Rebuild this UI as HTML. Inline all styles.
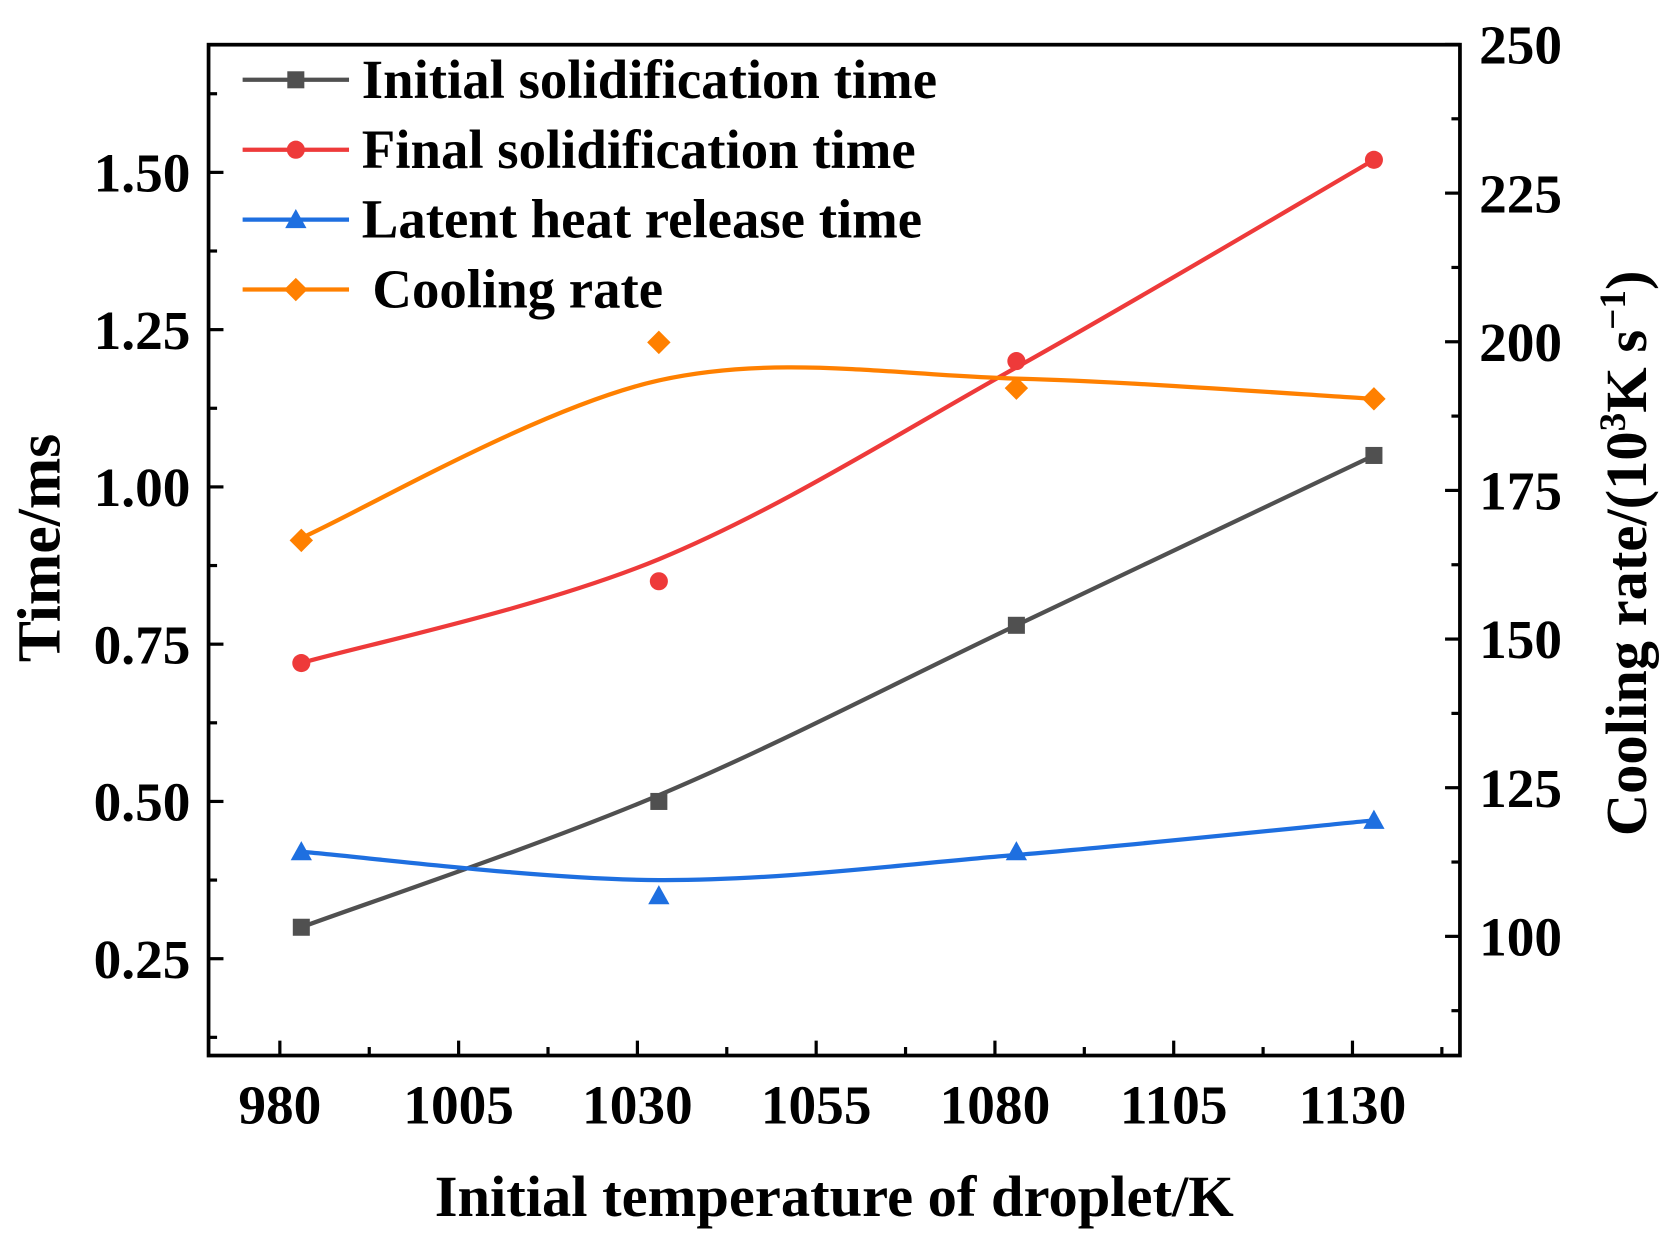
<!DOCTYPE html>
<html><head><meta charset="utf-8"><style>
html,body{margin:0;padding:0;background:#fff;}
svg{display:block;font-family:"Liberation Serif",serif;font-weight:bold;}
</style></head><body>
<svg id="chart" width="1660" height="1256" viewBox="0 0 1560 1180.4" preserveAspectRatio="none" xmlns="http://www.w3.org/2000/svg"></svg>
<script>
const categories = [983, 1033, 1083, 1133];
const initialTime = [0.30, 0.50, 0.78, 1.05];
const finalTime = [0.72, 0.85, 1.20, 1.52];
const latentTime = [0.42, 0.35, 0.42, 0.47];
const coolingRate = [166.6, 199.9, 192.2, 190.4];
const initialFit = [0.30, 0.51, 0.78, 1.05];
const finalFit = [0.72, 0.885, 1.19, 1.52];
const latentFit = [0.42, 0.375, 0.415, 0.47];
const coolingFit = [167, 193.5, 193.8, 190.4];
const xTicks = [980, 1005, 1030, 1055, 1080, 1105, 1130];
const yTicks = [0.25, 0.50, 0.75, 1.00, 1.25, 1.50];
const y2Ticks = [100, 125, 150, 175, 200, 225, 250];

const NS = "http://www.w3.org/2000/svg";
const svg = document.getElementById('chart');
const L = 196, R = 1372, T = 42, B = 992;
const x = v => 263 + (v - 980) / 25 * 168;
const y = v => 901 - (v - 0.25) / 0.25 * 147.8;
const y2 = v => 880 - (v - 100) / 25 * 139.7;
function mk(tag, attrs, parent) {
  const e = document.createElementNS(NS, tag);
  for (const k in attrs) e.setAttribute(k, attrs[k]);
  (parent || svg).appendChild(e);
  return e;
}
function txt(s, attrs, name) {
  const e = mk('text', attrs);
  e.textContent = s;
  
  
  return e;
}
const frame = mk('rect', {x: L, y: T, width: R - L, height: B - T, fill: 'none', stroke: '#000', 'stroke-width': 3.5});


xTicks.forEach((t, i) => {
  const tk = mk('line', {x1: x(t), x2: x(t), y1: B, y2: B - 14, stroke: '#000', 'stroke-width': 3});
  
  
  if (i < xTicks.length - 1) {
    const m = mk('line', {x1: x(t + 12.5), x2: x(t + 12.5), y1: B, y2: B - 8, stroke: '#000', 'stroke-width': 3});
    
    
  }
  txt(String(t), {x: x(t), y: 1056, 'font-size': 52, 'text-anchor': 'middle'}, 'x-tick-label');
});
[1142.5].forEach(t => {
  const m = mk('line', {x1: x(t), x2: x(t), y1: B, y2: B - 8, stroke: '#000', 'stroke-width': 3});
  
  
});
yTicks.forEach(t => {
  const tk = mk('line', {x1: L, x2: L + 14, y1: y(t), y2: y(t), stroke: '#000', 'stroke-width': 3});
  
  
  txt(t.toFixed(2), {x: 179, y: y(t) + 18, 'font-size': 52, 'text-anchor': 'end'}, 'y-tick-label');
});
[0.125, 0.375, 0.625, 0.875, 1.125, 1.375, 1.625].forEach(t => {
  const m = mk('line', {x1: L, x2: L + 8, y1: y(t), y2: y(t), stroke: '#000', 'stroke-width': 3});
  
  
});
y2Ticks.forEach(t => {
  const tk = mk('line', {x1: R, x2: R - 14, y1: y2(t), y2: y2(t), stroke: '#000', 'stroke-width': 3});
  
  
  txt(String(t), {x: 1390, y: y2(t) + 18, 'font-size': 52}, 'y2-tick-label');
});
[87.5, 112.5, 137.5, 162.5, 187.5, 212.5, 237.5].forEach(t => {
  const m = mk('line', {x1: R, x2: R - 8, y1: y2(t), y2: y2(t), stroke: '#000', 'stroke-width': 3});
  
  
});
txt('Initial temperature of droplet/K', {x: 784, y: 1143, 'font-size': 55, 'text-anchor': 'middle'}, 'x-axis-title');
txt('Time/ms', {x: 0, y: 0, 'font-size': 58, 'text-anchor': 'middle', transform: 'translate(56,515) rotate(-90)'}, 'y-axis-title');
const t2 = txt('', {x: 0, y: 0, 'font-size': 55, 'text-anchor': 'middle', transform: 'translate(1547,520) rotate(-90)'}, 'y2-axis-title');
t2.innerHTML = 'Cooling rate/(10<tspan dy="-20" font-size="35">3</tspan><tspan dy="20">K s</tspan><tspan dy="-20" font-size="35">−1</tspan><tspan dy="20">)</tspan>';

function smooth(pts) {
  let d = `M${pts[0][0]},${pts[0][1]}`;
  for (let i = 0; i < pts.length - 1; i++) {
    const p0 = pts[Math.max(i - 1, 0)], p1 = pts[i], p2 = pts[i + 1], p3 = pts[Math.min(i + 2, pts.length - 1)];
    const c1 = [p1[0] + (p2[0] - p0[0]) / 6, p1[1] + (p2[1] - p0[1]) / 6];
    const c2 = [p2[0] - (p3[0] - p1[0]) / 6, p2[1] - (p3[1] - p1[1]) / 6];
    d += ` C${c1[0]},${c1[1]} ${c2[0]},${c2[1]} ${p2[0]},${p2[1]}`;
  }
  return d;
}
function marker(type, cx, cy, color) {
  let e;
  if (type === 'square') e = mk('rect', {x: cx - 8, y: cy - 8, width: 16, height: 16, fill: color});
  else if (type === 'circle') e = mk('circle', {cx, cy, r: 8.5, fill: color});
  else if (type === 'triangle') e = mk('polygon', {points: `${cx},${cy - 10} ${cx + 10},${cy + 8} ${cx - 10},${cy + 8}`, fill: color});
  else e = mk('polygon', {points: `${cx},${cy - 11} ${cx + 11},${cy} ${cx},${cy + 11} ${cx - 11},${cy}`, fill: color});
  return e;
}
const series = [
  {name: 'initial', label: 'Initial solidification time', data: initialTime, fit: initialFit, color: '#505050', m: 'square', ys: y},
  {name: 'final', label: 'Final solidification time', data: finalTime, fit: finalFit, color: '#ee3a3a', m: 'circle', ys: y},
  {name: 'latent', label: 'Latent heat release time', data: latentTime, fit: latentFit, color: '#1e6fe0', m: 'triangle', ys: y},
  {name: 'cooling', label: 'Cooling rate', data: coolingRate, fit: coolingFit, color: '#ff8000', m: 'diamond', ys: y2},
];
series.forEach((s, si) => {
  const p = mk('path', {d: smooth(categories.map((c, i) => [x(c), s.ys(s.fit[i])])), fill: 'none', stroke: s.color, 'stroke-width': 4});
  
  
  categories.forEach((c, i) => {
    const e = marker(s.m, x(c), s.ys(s.data[i]), s.color);
    
    
  });
  const ly = 75 + si * 65.7;
  const ll = mk('line', {x1: 228, x2: 328, y1: ly, y2: ly, stroke: s.color, 'stroke-width': 4});
  
  
  const lm = marker(s.m, 278, ly, s.color);
  
  
  txt(s.label, {x: si === 3 ? 350 : 340, y: ly + 17, 'font-size': 51.5}, 'legend-entry-' + s.name);
});
</script>
</body></html>
